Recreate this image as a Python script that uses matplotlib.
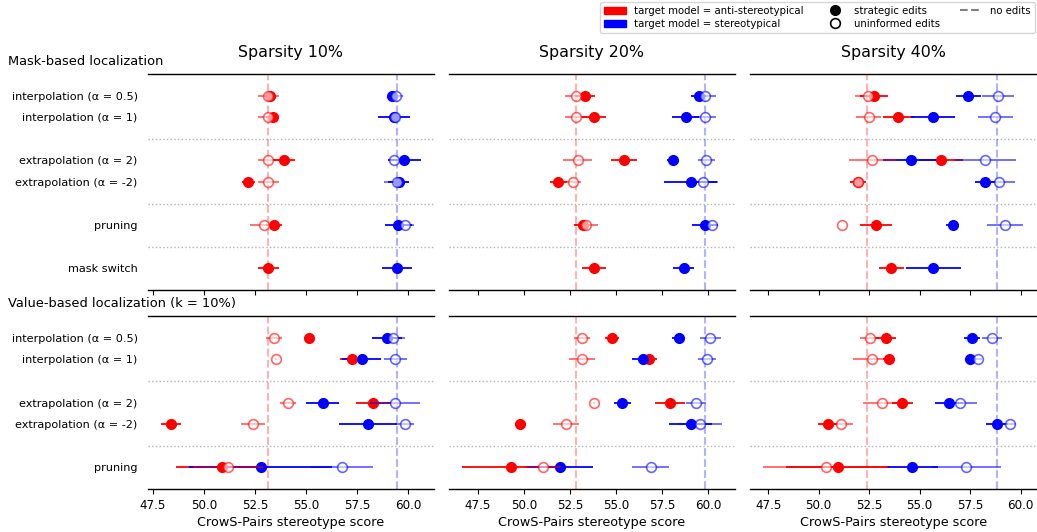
import numpy as np
import matplotlib.pyplot as plt
from matplotlib.lines import Line2D
from matplotlib.patches import Patch

RED = "#ff0000"
BLUE = "#0000ff"
nan = np.nan

SPARSITY = ["10%", "20%", "40%"]

MASK_ROWS = [
    "interpolation (α = 0.5)",
    "interpolation (α = 1)",
    "extrapolation (α = 2)",
    "extrapolation (α = -2)",
    "pruning",
    "mask switch",
]
MASK_POS = [0, 1, 3, 4, 6, 8]
MASK_SEPS = [2, 5, 7]

VALUE_ROWS = MASK_ROWS[:5]
VALUE_POS = [0, 1, 3, 4, 6]
VALUE_SEPS = [2, 5]

# score of the unedited model, one per sparsity level
NO_EDIT_ANTI = [53.15, 52.83, 52.37]
NO_EDIT_STEREO = [59.42, 59.84, 58.85]

# ------------------ mask-based localization ------------------
mask_anti_strat = [
    [53.22, 53.35, 53.92, 52.17, 53.43, 53.15],
    [53.32, 53.80, 55.43, 51.88, 53.19, 53.80],
    [52.75, 53.95, 56.06, 51.95, 52.83, 53.60],
]
mask_anti_strat_err = [
    [0.30, 0.30, 0.55, 0.30, 0.40, 0.50],
    [0.55, 0.65, 0.70, 0.45, 0.45, 0.66],
    [0.70, 0.75, 1.10, 0.40, 0.78, 0.63],
]
mask_anti_unif = [
    [53.15, 53.15, 53.15, 53.15, 52.94, nan],
    [52.83, 52.83, 52.92, 52.65, 53.40, nan],
    [52.42, 52.47, 52.65, 51.95, 51.13, nan],
]
mask_anti_unif_err = [
    [0.50, 0.50, 0.50, 0.50, 0.70, nan],
    [0.60, 0.60, 0.80, 0.45, 0.65, nan],
    [0.60, 0.60, 1.17, 0.40, 0.00, nan],
]
mask_stereo_strat = [
    [59.20, 59.30, 59.80, 59.52, 59.50, 59.42],
    [59.50, 58.78, 58.10, 59.05, 59.84, 58.67],
    [57.40, 55.67, 54.55, 58.26, 56.63, 55.67],
]
mask_stereo_strat_err = [
    [0.20, 0.80, 0.80, 0.50, 0.65, 0.73],
    [0.40, 0.72, 0.30, 1.45, 0.70, 0.57],
    [0.62, 1.10, 1.35, 0.50, 0.30, 1.36],
]
mask_stereo_unif = [
    [59.40, 59.35, 59.30, 59.42, 59.84, nan],
    [59.84, 59.84, 59.90, 59.72, 60.22, nan],
    [58.89, 58.75, 58.26, 58.92, 59.22, nan],
]
mask_stereo_unif_err = [
    [0.35, 0.30, 0.30, 0.60, 0.45, nan],
    [0.60, 0.60, 0.47, 0.80, 0.33, nan],
    [0.78, 0.87, 1.50, 0.80, 0.90, nan],
]

# ------------------ value-based localization ------------------
value_anti_strat = [
    [55.15, 57.24, 58.28, 48.38, 50.87],
    [54.79, 56.81, 57.93, 49.81, 49.32],
    [53.31, 53.47, 54.15, 50.47, 50.93],
]
value_anti_strat_err = [
    [0.27, 0.60, 0.85, 0.49, 2.26],
    [0.40, 0.40, 0.81, 0.05, 2.67],
    [0.50, 0.30, 0.50, 0.50, 2.55],
]
value_anti_unif = [
    [53.43, 53.51, 54.10, 52.39, 51.18],
    [53.15, 53.15, 53.81, 52.30, 51.02],
    [52.53, 52.66, 53.11, 51.10, 50.35],
]
value_anti_unif_err = [
    [0.38, 0.05, 0.40, 0.57, 1.70],
    [0.45, 0.72, 0.05, 0.71, 1.00],
    [0.47, 0.95, 0.94, 0.60, 3.10],
]
value_stereo_strat = [
    [58.94, 57.71, 55.80, 58.00, 52.78],
    [58.41, 56.48, 55.35, 59.06, 51.97],
    [57.60, 57.48, 56.46, 58.84, 54.64],
]
value_stereo_strat_err = [
    [0.74, 0.95, 0.82, 1.42, 3.50],
    [0.35, 0.58, 0.45, 1.17, 1.80],
    [0.40, 0.20, 0.70, 0.56, 1.25],
]
value_stereo_unif = [
    [59.26, 59.35, 59.35, 59.82, 56.75],
    [60.13, 59.95, 59.37, 59.55, 56.88],
    [58.60, 57.90, 57.02, 59.46, 57.32],
]
value_stereo_unif_err = [
    [0.59, 0.56, 1.22, 0.47, 1.50],
    [0.55, 0.48, 0.54, 1.20, 1.00],
    [0.50, 0.20, 0.83, 0.30, 1.70],
]


def draw_panel(ax, pos, seps, anti_s, anti_s_err, anti_u, anti_u_err,
               ster_s, ster_s_err, ster_u, ster_u_err, no_anti, no_ster):
    pos = np.array(pos)
    # strategic edits: filled markers
    for vals, err, c in [(anti_s, anti_s_err, RED), (ster_s, ster_s_err, BLUE)]:
        ax.errorbar(vals, pos, xerr=err, fmt="o", color=c, ms=7, lw=1.3,
                    capsize=0, zorder=3)
    # uninformed edits: open markers, lighter
    for vals, err, c in [(anti_u, anti_u_err, RED), (ster_u, ster_u_err, BLUE)]:
        ax.errorbar(vals, pos, xerr=err, fmt="o", color=c, mfc="white",
                    mec=c, ms=7, mew=1.2, lw=1.3, capsize=0, alpha=0.6,
                    zorder=4)

    ax.axvline(no_anti, color=RED, ls="--", lw=1.5, alpha=0.3, zorder=1)
    ax.axvline(no_ster, color=BLUE, ls="--", lw=1.5, alpha=0.3, zorder=1)
    for s in seps:
        ax.axhline(s, color="gray", ls=":", lw=1.0, alpha=0.6, zorder=0)

    ax.set_ylim(pos.max() + 1, -1)
    ax.spines["left"].set_visible(False)
    ax.spines["right"].set_visible(False)
    ax.spines["top"].set_linewidth(1.0)
    ax.spines["bottom"].set_linewidth(1.0)
    ax.tick_params(axis="y", length=0, pad=7.5, labelsize=8.1)
    ax.tick_params(axis="x", labelsize=8.6)


fig, axes = plt.subplots(
    2, 3, figsize=(10.37, 5.32), dpi=100, sharex="col",
    gridspec_kw={"height_ratios": [10, 8]},
)
fig.subplots_adjust(left=0.1427, right=0.999, top=0.8609, bottom=0.0808,
                    wspace=0.054, hspace=0.135)

for j in range(3):
    ax = axes[0, j]
    draw_panel(ax, MASK_POS, MASK_SEPS,
               mask_anti_strat[j], mask_anti_strat_err[j],
               mask_anti_unif[j], mask_anti_unif_err[j],
               mask_stereo_strat[j], mask_stereo_strat_err[j],
               mask_stereo_unif[j], mask_stereo_unif_err[j],
               NO_EDIT_ANTI[j], NO_EDIT_STEREO[j])
    ax.set_title(f"Sparsity {SPARSITY[j]}", fontsize=11.4, pad=12)
    ax.set_yticks(MASK_POS)
    ax.set_yticklabels(MASK_ROWS if j == 0 else [])
    ax.tick_params(axis="x", labelbottom=False)

    ax = axes[1, j]
    draw_panel(ax, VALUE_POS, VALUE_SEPS,
               value_anti_strat[j], value_anti_strat_err[j],
               value_anti_unif[j], value_anti_unif_err[j],
               value_stereo_strat[j], value_stereo_strat_err[j],
               value_stereo_unif[j], value_stereo_unif_err[j],
               NO_EDIT_ANTI[j], NO_EDIT_STEREO[j])
    ax.set_yticks(VALUE_POS)
    ax.set_yticklabels(VALUE_ROWS if j == 0 else [])
    ax.set_xticks([47.5, 50.0, 52.5, 55.0, 57.5, 60.0])
    ax.set_xlabel("CrowS-Pairs stereotype score", fontsize=9.2, labelpad=3)

fig.text(0.008, 1 - 61.5 / 532, "Mask-based localization", fontsize=9.4,
         va="center", ha="left")
fig.text(0.008, 1 - 304 / 532, "Value-based localization (k = 10%)",
         fontsize=9.4, va="center", ha="left")

handles = [
    Patch(color=RED, label="target model = anti-stereotypical"),
    Patch(color=BLUE, label="target model = stereotypical"),
    Line2D([], [], marker="o", ls="none", color="black", ms=7,
           label="strategic edits"),
    Line2D([], [], marker="o", ls="none", color="black", mfc="white",
           ms=7, mew=1.2, label="uninformed edits"),
    Line2D([], [], ls="--", color="gray", lw=1.5, label="no edits"),
]
fig.legend(handles=handles, loc="upper right", bbox_to_anchor=(0.999, 0.999),
           borderaxespad=0.1, ncol=3, fontsize=7.25, handlelength=2.2,
           columnspacing=2.0, borderpad=0.4, labelspacing=0.3)

plt.savefig("out.png", dpi=100)
plt.close()
